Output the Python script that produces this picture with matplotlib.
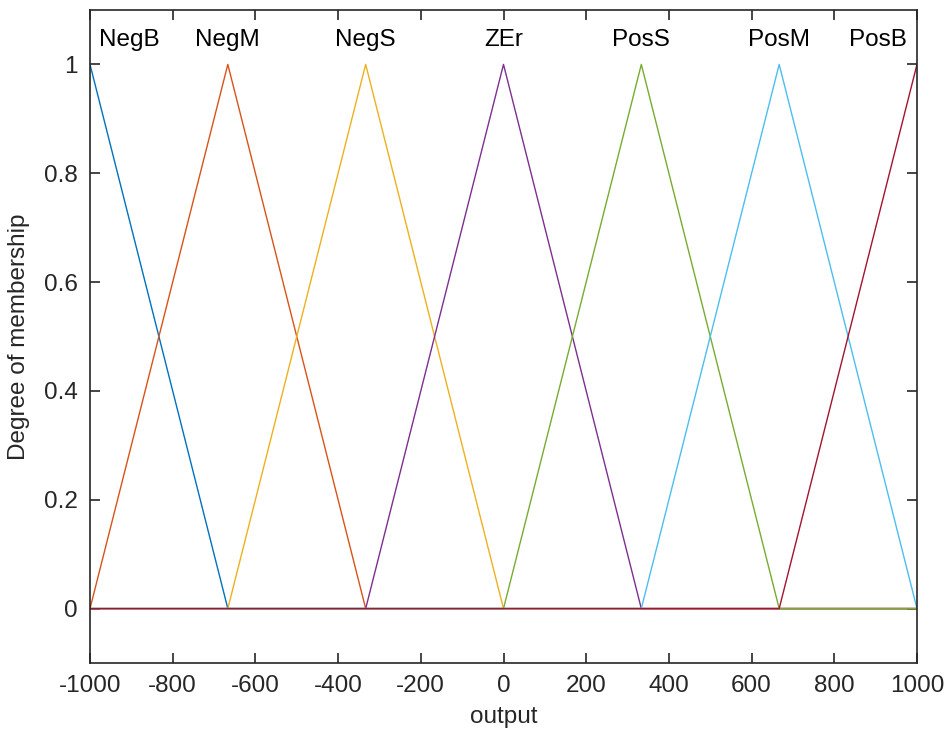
import matplotlib
matplotlib.use("Agg")
import matplotlib.pyplot as plt
import numpy as np

plt.rcParams["font.family"] = ["Liberation Sans", "DejaVu Sans"]
plt.rcParams["axes.unicode_minus"] = False

# membership functions (trimf params a, b, c)
mf_names = ["NegB", "NegM", "NegS", "ZEr", "PosS", "PosM", "PosB"]
mf_a = [-1333.3, -1000.0, -666.7, -333.3, 0.0, 333.3, 666.7]
mf_b = [-1000.0, -666.7, -333.3, 0.0, 333.3, 666.7, 1000.0]
mf_c = [-666.7, -333.3, 0.0, 333.3, 666.7, 1000.0, 1333.3]
mf_colors = ["#0072BD", "#D95319", "#EDB120", "#7E2F8E", "#77AC30", "#4DBEEE", "#A2142F"]
label_x = [-905, -666.7, -333.3, 0, 333.3, 666.7, 905]

x = np.linspace(-1000, 1000, 2001)
x = np.union1d(x, np.array(mf_b))

fig = plt.figure(figsize=(9.49, 7.45), dpi=100)
ax = fig.add_axes([90 / 949, (745 - 663) / 745, (917 - 90) / 949, (663 - 10) / 745])

for a, b, c, col, name, lx in zip(mf_a, mf_b, mf_c, mf_colors, mf_names, label_x):
    y = np.maximum(np.minimum((x - a) / (b - a), (c - x) / (c - b)), 0)
    ax.plot(x, y, color=col, linewidth=1.0)
    ax.text(lx, 1.044, name, ha="center", va="center", fontsize=17.5, color="black")

ax.set_xlim(-1000, 1000)
ax.set_ylim(-0.1, 1.1)
ax.set_xticks(np.arange(-1000, 1001, 200))
ax.set_yticks([0, 0.2, 0.4, 0.6, 0.8, 1])
ax.set_yticklabels(["0", "0.2", "0.4", "0.6", "0.8", "1"])
ax.tick_params(direction="in", length=7, width=1.2, labelsize=17.5, colors="#262626",
               pad=9, top=True, right=True)
for s in ax.spines.values():
    s.set_color("#262626")
    s.set_linewidth(1.2)
ax.set_xlabel("output", fontsize=17.5, color="#262626", labelpad=6)
ax.set_ylabel("Degree of membership", fontsize=17.5, color="#262626", labelpad=10)

fig.savefig("out.png", dpi=100)
